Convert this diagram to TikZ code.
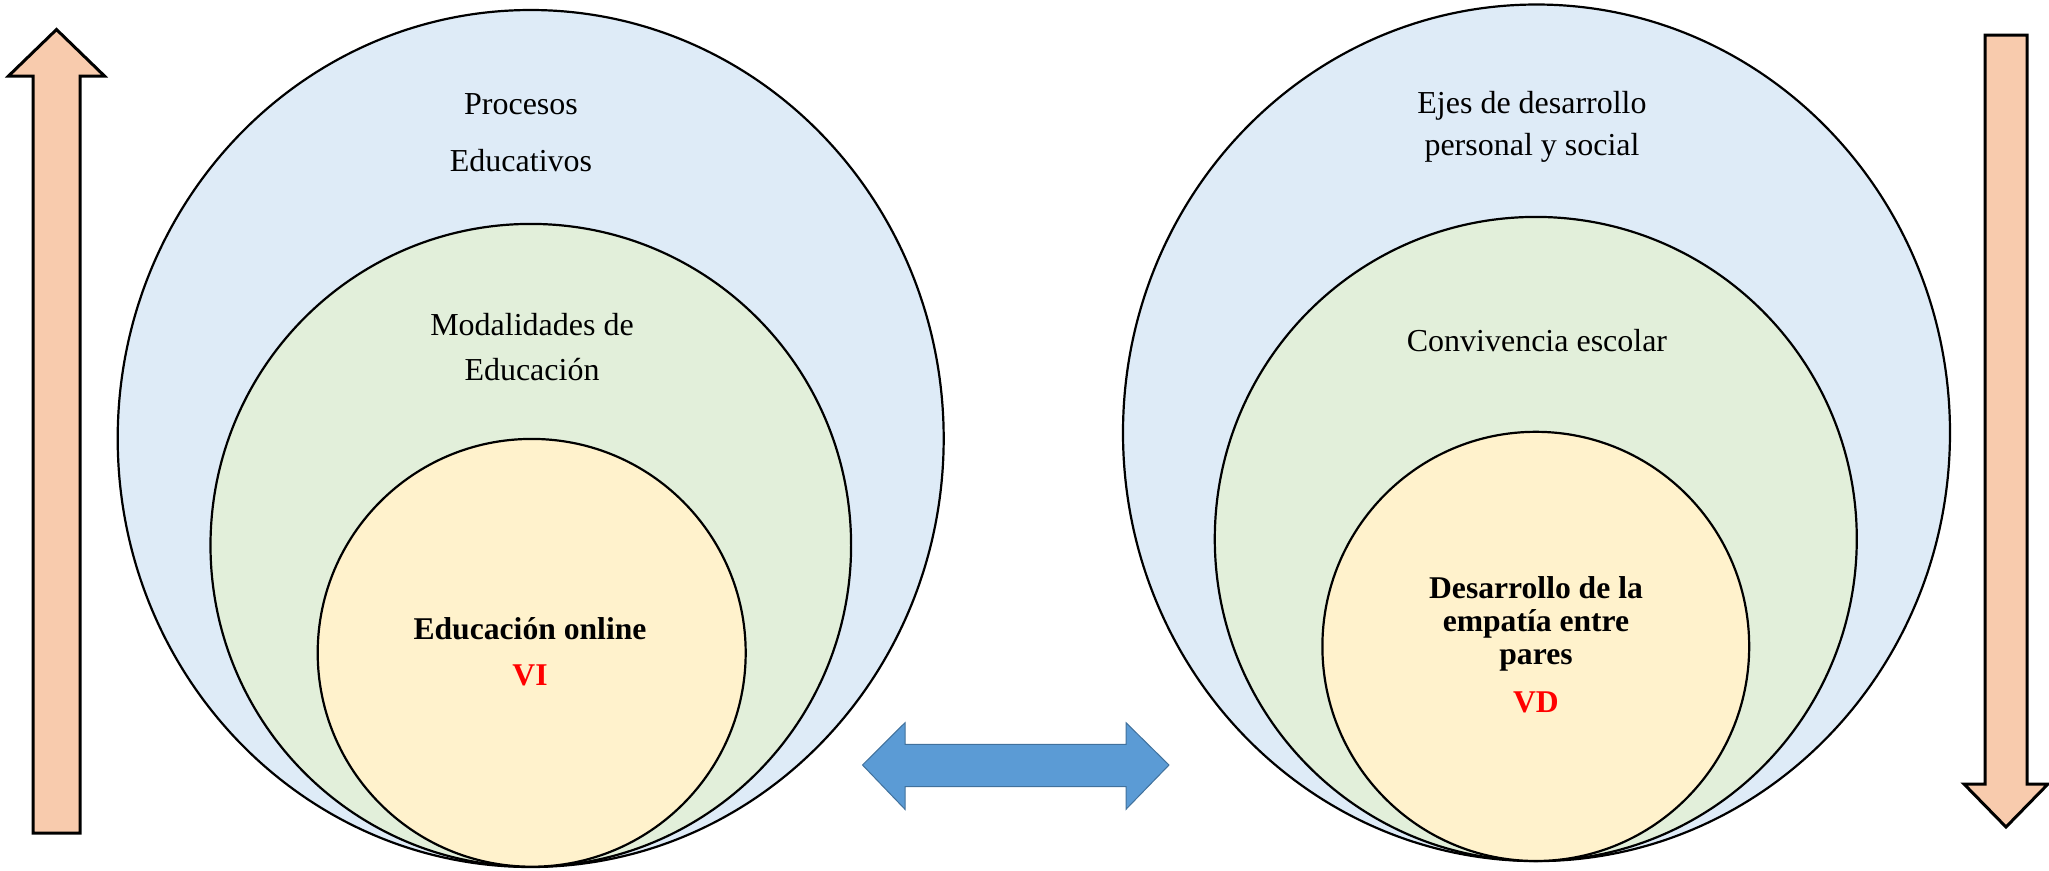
\documentclass[tikz,border=0pt]{standalone}
\usepackage{fontspec}
\setmainfont{Liberation Serif}
\usepackage{tikz}
\definecolor{azulclaro}{HTML}{DEEBF7}
\definecolor{verdeclaro}{HTML}{E2EFDA}
\definecolor{amarillo}{HTML}{FFF2CC}
\definecolor{durazno}{HTML}{F8CBAD}
\definecolor{azul}{HTML}{5B9BD5}
\definecolor{azulborde}{HTML}{41719C}
\tikzset{
  ring/.style={draw=black, line width=0.22mm},
  flecha/.style={draw=black, line width=0.3mm, fill=durazno, line join=miter},
  texto/.style={inner sep=0pt, align=center, anchor=base},
  negrita/.style={texto, font=\fontsize{9}{9.4}\selectfont\bfseries}
}

\begin{document}
\begin{tikzpicture}[x=0.1mm, y=-0.1mm]
		%%%%% START %%%%%
		\useasboundingbox (0, 0) rectangle (2049, 870);
		
		% izquierda
		\draw[ring, fill=azulclaro] (530.7, 438.5) ellipse [x radius=413, y radius=428.5];
		\draw[ring, fill=verdeclaro] (530.8, 545.3) ellipse [x radius=320.3, y radius=321.4];
		\draw[ring, fill=amarillo] (531.7, 652.8) ellipse [x radius=214, y radius=213.9];
		
		\node[texto, font=\fontsize{9.1}{16.2}\selectfont] (procesos) at (521, 171.7) {Procesos\\Educativos};
		\node[texto, font=\fontsize{9.1}{13}\selectfont] (modalidades) at (532, 380.7) {Modalidades de\\Educación};
		\node[negrita] (online) at (530, 685.3) {Educación online\\[3.7pt]\textcolor{red}{VI}};
		
		% derecha
		\draw[ring, fill=azulclaro] (1536.5, 432.8) ellipse [x radius=413.5, y radius=428.3];
		\draw[ring, fill=verdeclaro] (1535.8, 538.9) ellipse [x radius=321, y radius=322];
		\draw[ring, fill=amarillo] (1535.8, 646.4) ellipse [x radius=213.4, y radius=214.6];
		
		\node[texto, font=\fontsize{9.1}{11.9}\selectfont] (ejes) at (1532, 155.7) {Ejes de desarrollo\\personal y social};
		\node[texto, font=\fontsize{9.1}{11.9}\selectfont] (convivencia) at (1537, 351.7) {Convivencia escolar};
		\node[negrita] (empatia) at (1536, 712.7) {Desarrollo de la\\empatía entre\\pares\\[4.2pt]\textcolor{red}{VD}};
		
		% flechas
		\draw[flecha] (33, 833) -- (33, 76) -- (8.5, 76) -- (56.5, 29.5) -- (104.5, 76) -- (80, 76) -- (80, 833) -- cycle;
		\draw[flecha] (1985, 35) -- (2027, 35) -- (2027, 784) -- (2048, 784) -- (2006, 827) -- (1964, 784) -- (1985, 784) -- cycle;
		
		\draw[draw=azulborde, line width=0.1mm, fill=azul, line join=miter] (862.5, 765) -- (905, 722.7) -- (905, 744.3) -- (1126, 744.3) -- (1126, 722.7) -- (1169, 765) -- (1126, 809.3) -- (1126, 786.7) -- (905, 786.7) -- (905, 809.3) -- cycle;
		
		%%%%% END %%%%%
\end{tikzpicture}
\end{document}
